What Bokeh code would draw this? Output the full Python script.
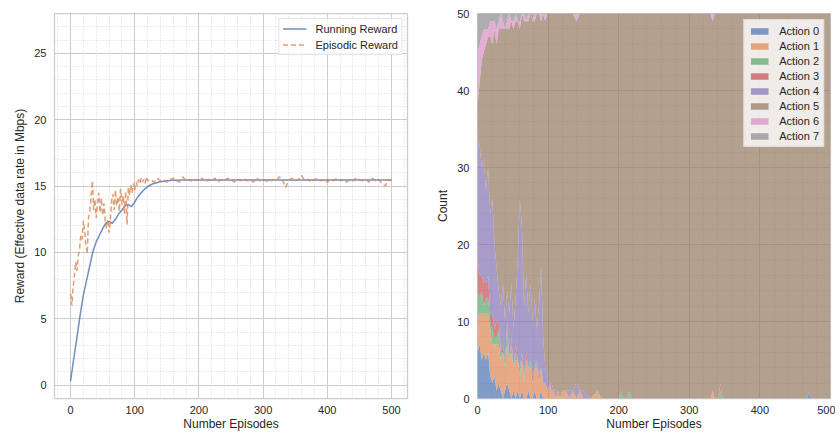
from bokeh.plotting import figure
from bokeh.layouts import row
from bokeh.models import ColumnDataSource, Range1d, FixedTicker, Legend, LegendItem
from bokeh.embed import file_html
from bokeh.resources import INLINE

# ---------------- data: left panel ----------------
run_x = [0, 5, 10, 15, 20, 25, 30, 35, 40, 45, 50, 55, 60, 65, 70, 75, 80, 85, 90, 95,
         100, 105, 110, 115, 120, 125, 130, 140, 150, 160, 175, 200, 250, 300, 350, 400, 450, 500]
running_reward = [0.3, 2.0, 3.6, 5.3, 6.8, 7.9, 9.0, 10.1, 10.8, 11.3, 11.8, 12.2, 12.35, 12.2, 12.5,
                  12.9, 13.2, 13.5, 13.6, 13.45, 13.8, 14.2, 14.5, 14.75, 14.95, 15.1, 15.2, 15.32,
                  15.4, 15.44, 15.46, 15.46, 15.45, 15.46, 15.45, 15.45, 15.46, 15.45]

epi_x = list(range(0, 121, 2)) + list(range(125, 501, 5))
episodic_reward = [
    6.9, 6.0, 7.4, 8.2, 9.3, 8.6, 9.8, 10.2, 11.3, 11.0,
    12.4, 11.6, 10.5, 9.9, 12.6, 13.1, 14.2, 15.4, 13.2, 14.0,
    12.6, 13.8, 14.5, 13.0, 14.1, 12.8, 13.7, 12.4, 11.8, 12.5,
    11.5, 12.3, 13.9, 14.4, 13.2, 14.7, 13.5, 14.2, 13.1, 14.8,
    13.6, 14.3, 12.9, 14.6, 12.1, 14.9, 14.3, 15.1, 14.5, 15.2,
    14.7, 15.3, 15.0, 15.5, 15.2, 15.6, 15.3, 15.5, 15.2, 15.7,
    15.4,
    15.5, 15.3, 15.6, 15.4, 15.5, 15.3, 15.5, 15.6, 15.4, 15.3,
    15.7, 15.4, 15.5, 15.3, 15.5, 15.4, 15.6, 15.3, 15.5, 15.4,
    15.6, 15.3, 15.5, 15.4, 15.6, 15.5, 15.3, 15.5, 15.4, 15.6,
    15.4, 15.5, 15.3, 15.6, 15.4, 15.5, 15.4, 15.3, 15.5, 15.4,
    15.7, 15.5, 14.9, 15.4, 15.6, 15.4, 15.5, 15.8, 15.4, 15.5,
    15.3, 15.5, 15.6, 15.4, 15.5, 15.3, 15.5, 15.4, 15.6, 15.4,
    15.5, 15.3, 15.5, 15.4, 15.6, 15.5, 15.4, 15.5, 15.3, 15.6,
    15.4, 15.5, 15.2, 15.0, 15.5, 15.4,
]

# ---------------- data: right panel (action counts per episode) ----------------
episodes = [0, 3, 6, 9, 12, 15, 18, 21, 24, 27, 30, 33, 36, 39, 42, 45, 48, 51, 54, 57,
            60, 63, 66, 69, 72, 75, 78, 81, 84, 87, 90, 93, 96, 99, 102, 105, 108, 111, 114, 117,
            120, 125, 130, 135, 140, 145, 150, 160, 170, 175, 200, 203, 206, 212, 215, 218,
            330, 333, 336, 341, 344, 347, 467, 470, 473, 500]
action_0 = [6, 7, 5, 6, 5, 6, 3, 2, 3, 1, 2, 1, 0, 1, 2, 1, 0, 1, 0, 1,
            0, 1, 0, 0, 1, 0, 0, 1, 0, 0, 1, 0, 0, 0, 0, 0, 0, 0, 0, 0,
            0, 0, 0, 0, 0, 0, 0, 0, 0, 0, 0, 0, 0, 0, 0, 0,
            0, 0, 0, 0, 0, 0, 0, 1, 0, 0]
action_1 = [5, 4, 6, 5, 6, 5, 6, 5, 4, 6, 5, 4, 6, 3, 5, 4, 6, 3, 5, 4,
            3, 4, 2, 5, 3, 4, 2, 3, 4, 2, 3, 2, 2, 1, 2, 1, 1, 0, 1, 0,
            1, 1, 0, 1, 0, 1, 0, 0, 1, 0, 0, 0, 0, 0, 0, 0,
            0, 1, 0, 0, 0, 0, 0, 0, 0, 0]
action_2 = [3, 2, 3, 1, 2, 2, 1, 2, 1, 1, 2, 1, 0, 1, 2, 0, 1, 0, 1, 0,
            1, 0, 1, 0, 0, 1, 0, 0, 1, 0, 0, 0, 0, 0, 0, 0, 0, 0, 0, 0,
            0, 0, 0, 0, 0, 0, 0, 0, 0, 0, 0, 1, 0, 0, 1, 0,
            0, 0, 0, 0, 1, 0, 0, 0, 0, 0]
action_3 = [4, 3, 2, 3, 2, 3, 1, 2, 1, 2, 1, 0, 1, 0, 1, 0, 1, 0, 1, 0,
            0, 1, 0, 1, 0, 0, 1, 0, 0, 1, 0, 0, 0, 0, 0, 0, 0, 0, 0, 0,
            0, 0, 0, 0, 0, 0, 0, 0, 0, 0, 0, 0, 0, 0, 0, 0,
            0, 0, 0, 0, 1, 0, 0, 0, 0, 0]
action_4 = [16, 17, 14, 16, 12, 14, 13, 15, 11, 7, 4, 6, 8, 5, 4, 6, 7, 5, 6, 13,
            22, 16, 9, 10, 7, 10, 7, 9, 4, 9, 13, 6, 2, 2, 0, 1, 0, 1, 0, 0,
            0, 0, 1, 0, 2, 0, 1, 0, 0, 0, 0, 0, 0, 0, 0, 0,
            0, 0, 0, 0, 0, 0, 0, 0, 0, 0]
action_5 = [4, 8, 14, 14, 19, 17, 23, 20, 28, 29, 34, 36, 33, 38, 34, 37, 34, 39, 36, 31,
            22, 28, 37, 33, 38, 35, 39, 36, 41, 38, 32, 42, 45, 47, 48, 48, 49, 49, 49, 50,
            49, 49, 49, 49, 47, 49, 49, 50, 49, 50, 50, 49, 50, 50, 49, 50,
            50, 48, 50, 50, 48, 50, 50, 49, 50, 50]
action_6 = [7, 5, 3, 3, 2, 1, 2, 3, 1, 2, 1, 2, 1, 0, 1, 2, 0, 1, 1, 0,
            1, 0, 1, 0, 1, 0, 0, 1, 0, 0, 1, 0, 1, 0, 0, 0, 0, 0, 0, 0,
            0, 0, 0, 0, 1, 0, 0, 0, 0, 0, 0, 0, 0, 0, 0, 0,
            0, 1, 0, 0, 0, 0, 0, 0, 0, 0]
action_7 = [5, 4, 3, 2, 2, 2, 1, 1, 1, 2, 1, 0, 1, 2, 1, 0, 1, 1, 0, 1,
            1, 0, 0, 1, 0, 0, 1, 0, 0, 0, 0, 0, 0, 0, 0, 0, 0, 0, 0, 0,
            0, 0, 0, 0, 0, 0, 0, 0, 0, 0, 0, 0, 0, 0, 0, 0,
            0, 0, 0, 0, 0, 0, 0, 0, 0, 0]
action_labels = ["Action 0", "Action 1", "Action 2", "Action 3",
                 "Action 4", "Action 5", "Action 6", "Action 7"]

# ---------------- style ----------------
FONT = "Liberation Sans"
TXT = "#262626"
PALETTE = ["#4C72B0", "#DD8452", "#55A868", "#C44E52",
           "#8172B3", "#937860", "#DA8BC3", "#8C8C8C"]


def style(p, xt, xminor, yt, yminor):
    p.xaxis.ticker = FixedTicker(ticks=xt, minor_ticks=xminor)
    p.yaxis.ticker = FixedTicker(ticks=yt, minor_ticks=yminor)
    for ax in (p.xaxis[0], p.yaxis[0]):
        ax.axis_line_color = None
        ax.major_tick_line_color = None
        ax.minor_tick_line_color = None
        ax.major_tick_out = 0
        ax.minor_tick_out = 0
        ax.major_label_text_font = FONT
        ax.major_label_text_font_size = "11px"
        ax.major_label_text_color = TXT
        ax.axis_label_text_font = FONT
        ax.axis_label_text_font_size = "12px"
        ax.axis_label_text_font_style = "normal"
        ax.axis_label_text_color = TXT
        ax.major_label_standoff = 8
        ax.axis_label_standoff = 4
    p.xaxis[0].major_label_standoff = 7
    p.xaxis[0].axis_label_standoff = 0
    for g in p.grid:
        g.grid_line_color = "#cccccc"
        g.grid_line_width = 1
        g.minor_grid_line_color = "#cfcfcf"
        g.minor_grid_line_dash = "1 2"
        g.minor_grid_line_width = 0.8
    p.outline_line_color = "#cccccc"
    p.outline_line_width = 1.25
    p.background_fill_color = "white"
    p.border_fill_color = "white"


def style_legend(lg):
    lg.location = "top_right"
    lg.background_fill_color = "white"
    lg.background_fill_alpha = 0.8
    lg.border_line_color = "#cccccc"
    lg.border_line_width = 1
    lg.label_text_font = FONT
    lg.label_text_font_size = "11px"
    lg.label_text_color = TXT
    lg.label_height = 13
    lg.label_standoff = 9


# ---------------- left figure ----------------
p1 = figure(width=420, height=433, output_backend="svg", toolbar_location=None,
            x_range=Range1d(-25, 525), y_range=Range1d(-1, 28),
            min_border_left=54, min_border_right=13, min_border_top=13, min_border_bottom=35)
style(p1, [0, 100, 200, 300, 400, 500], [v for v in range(-20, 521, 20) if v % 100],
      [0, 5, 10, 15, 20, 25], [v for v in range(-1, 29) if v % 5])
p1.xaxis.axis_label = "Number Episodes"
p1.yaxis.axis_label = "Reward (Effective data rate in Mbps)"

r_run = p1.line(run_x, running_reward, line_color="#4C72B0", line_width=1.5, line_alpha=0.8)
r_epi = p1.line(epi_x, episodic_reward, line_color="#DD8452", line_width=1.5,
                line_alpha=0.8, line_dash="5 3")
lg1 = Legend(items=[LegendItem(label="Running Reward", renderers=[r_run]),
                    LegendItem(label="Episodic Reward", renderers=[r_epi])])
style_legend(lg1)
lg1.margin = 5
lg1.padding = 3
lg1.spacing = 3
lg1.glyph_width = 24
lg1.glyph_height = 13
p1.add_layout(lg1)

# ---------------- right figure ----------------
src = ColumnDataSource(dict(x=episodes, a0=action_0, a1=action_1, a2=action_2, a3=action_3,
                            a4=action_4, a5=action_5, a6=action_6, a7=action_7))
p2 = figure(width=415, height=433, output_backend="svg", toolbar_location=None,
            x_range=Range1d(0, 500), y_range=Range1d(0, 50),
            min_border_left=57, min_border_right=5, min_border_top=13, min_border_bottom=35)
style(p2, [0, 100, 200, 300, 400, 500], [v for v in range(20, 500, 20) if v % 100],
      [0, 10, 20, 30, 40, 50], [v for v in range(2, 50, 2) if v % 10])
p2.xaxis.axis_label = "Number Episodes"
p2.yaxis.axis_label = "Count"

stack_rs = p2.varea_stack(stackers=["a0", "a1", "a2", "a3", "a4", "a5", "a6", "a7"], x="x",
                          fill_color=PALETTE, fill_alpha=0.7, source=src)
lg2 = Legend(items=[LegendItem(label=lab, renderers=[r]) for lab, r in zip(action_labels, stack_rs)])
style_legend(lg2)
lg2.margin = 6
lg2.padding = 4
lg2.spacing = 2
lg2.glyph_width = 22
lg2.glyph_height = 8
p2.add_layout(lg2)

layout = row(p1, p2)
open("out.html", "w").write(file_html(layout, INLINE))
